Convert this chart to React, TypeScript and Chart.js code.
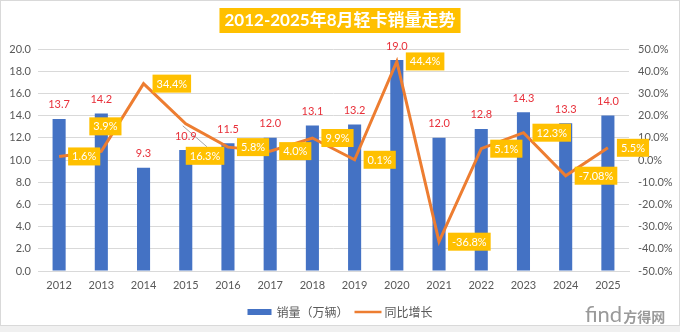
import React, { useEffect, useRef } from 'react';
import { Chart, registerables } from 'chart.js';

Chart.register(...registerables);

const years = ['2012', '2013', '2014', '2015', '2016', '2017', '2018', '2019', '2020', '2021', '2022', '2023', '2024', '2025'];
const sales = [13.7, 14.2, 9.3, 10.9, 11.5, 12.0, 13.1, 13.2, 19.0, 12.0, 12.8, 14.3, 13.3, 14.0];
const growth = [1.6, 3.9, 34.4, 16.3, 5.8, 4.0, 9.9, 0.1, 44.4, -36.8, 5.1, 12.3, -7.08, 5.5];
const growthLabels = ['1.6%', '3.9%', '34.4%', '16.3%', '5.8%', '4.0%', '9.9%', '0.1%', '44.4%', '-36.8%', '5.1%', '12.3%', '-7.08%', '5.5%'];
const leftTicks = [0, 2, 4, 6, 8, 10, 12, 14, 16, 18, 20];
const rightTicks = [-50, -40, -30, -20, -10, 0, 10, 20, 30, 40, 50];
const titleText = '2012-2025年8月轻卡销量走势';
const legendLabels = ['销量（万辆）', '同比增长'];
const labelPlacement = ['right', 'above', 'right', 'below', 'right', 'right', 'right', 'right', 'right', 'right', 'right', 'right', 'right', 'right'];

const BLUE = '#4472C4';
const ORANGE = '#ED7D31';
const GOLD = '#FFC000';
const RED = '#E8303A';
const GRAY = '#595959';
const LATIN = 'Lato, "Noto Sans CJK SC", sans-serif';
const CJK = '"Noto Sans CJK SC", sans-serif';

const overlay = {
  id: 'overlay',
  beforeDraw(chart: any) {
    const { ctx, width, height } = chart;
    ctx.save();
    ctx.fillStyle = '#ffffff';
    ctx.fillRect(0, 0, width, height);
    ctx.fillStyle = '#f0f0f0';
    ctx.fillRect(0, height - 6, width, 6);
    ctx.strokeStyle = '#d9d9d9';
    ctx.lineWidth = 1;
    ctx.strokeRect(0.5, 0.5, width - 1, height - 7);
    ctx.restore();
  },
  beforeDatasetsDraw(chart: any) {
    const ctx = chart.ctx;
    const lineMeta = chart.getDatasetMeta(0);
    ctx.save();
    ctx.font = '11px ' + LATIN;
    ctx.strokeStyle = '#a6a6a6';
    ctx.lineWidth = 1;
    lineMeta.data.forEach((pt: any, i: number) => {
      const w = ctx.measureText(growthLabels[i]).width + 8;
      const h = 18;
      if (labelPlacement[i] === 'above') {
        const bx = pt.x - 12, by = pt.y - 34;
        ctx.beginPath();
        ctx.moveTo(bx + w / 2, by + h);
        ctx.lineTo(pt.x, pt.y - 2);
        ctx.stroke();
      } else if (labelPlacement[i] === 'below') {
        const bx = pt.x, by = pt.y + 23;
        ctx.beginPath();
        ctx.moveTo(pt.x - 3, pt.y + 2);
        ctx.lineTo(bx + w * 0.55, by);
        ctx.stroke();
      }
    });
    ctx.restore();
  },
  afterDatasetsDraw(chart: any) {
    const ctx = chart.ctx;
    const lineMeta = chart.getDatasetMeta(0);
    const barMeta = chart.getDatasetMeta(1);
    ctx.save();
    ctx.font = '11px ' + LATIN;
    ctx.fillStyle = RED;
    ctx.textAlign = 'center';
    ctx.textBaseline = 'middle';
    barMeta.data.forEach((el: any, i: number) => {
      ctx.fillText(sales[i].toFixed(1), el.x, el.y - 14);
    });
    lineMeta.data.forEach((pt: any, i: number) => {
      const t = growthLabels[i];
      const w = ctx.measureText(t).width + 8;
      const h = 18;
      let bx = pt.x + 9;
      let by = pt.y - h / 2;
      if (labelPlacement[i] === 'above') {
        bx = pt.x - 12;
        by = pt.y - 34;
      } else if (labelPlacement[i] === 'below') {
        bx = pt.x;
        by = pt.y + 23;
      }
      ctx.fillStyle = GOLD;
      ctx.fillRect(bx, by, w, h);
      ctx.fillStyle = '#ffffff';
      ctx.fillText(t, bx + w / 2, by + h / 2 + 0.5);
    });
    ctx.restore();
  },
  afterDraw(chart: any) {
    const { ctx, width } = chart;
    ctx.save();
    // title
    ctx.font = 'bold 17px ' + LATIN;
    const tw = ctx.measureText(titleText).width;
    const cx = width / 2;
    ctx.fillStyle = GOLD;
    ctx.fillRect(cx - tw / 2 - 5, 8, tw + 10, 25);
    ctx.fillStyle = '#ffffff';
    ctx.textAlign = 'center';
    ctx.textBaseline = 'middle';
    ctx.fillText(titleText, cx, 21);

    // legend
    ctx.font = '12px ' + CJK;
    ctx.textAlign = 'left';
    const w0 = ctx.measureText(legendLabels[0]).width;
    const w1 = ctx.measureText(legendLabels[1]).width;
    const total = 24 + 5 + w0 + 6 + 27 + 3 + w1;
    let x = cx - total / 2;
    const ly = 312;
    ctx.fillStyle = BLUE;
    ctx.fillRect(x, ly - 3, 24, 6);
    x += 29;
    ctx.fillStyle = GRAY;
    ctx.fillText(legendLabels[0], x, ly);
    x += w0 + 6;
    ctx.strokeStyle = ORANGE;
    ctx.lineWidth = 2.5;
    ctx.beginPath();
    ctx.moveTo(x, ly);
    ctx.lineTo(x + 27, ly);
    ctx.stroke();
    x += 30;
    ctx.fillStyle = GRAY;
    ctx.fillText(legendLabels[1], x, ly);

    // watermark
    ctx.fillStyle = '#9a9a9a';
    ctx.font = '22px ' + LATIN;
    ctx.textBaseline = 'alphabetic';
    ctx.fillText('find', 585, 322);
    const fw = ctx.measureText('find').width;
    ctx.font = 'bold 14px ' + CJK;
    ctx.fillText('方得网', 585 + fw + 1, 322);
    ctx.restore();
  },
};

export default function App() {
  const ref = useRef<HTMLCanvasElement | null>(null);
  useEffect(() => {
    if (!ref.current) return;
    Chart.defaults.font.family = LATIN;
    const chart = new Chart(ref.current, {
      type: 'bar',
      data: {
        labels: years,
        datasets: [
          {
            type: 'line',
            label: legendLabels[1],
            data: growth,
            yAxisID: 'y1',
            borderColor: ORANGE,
            backgroundColor: ORANGE,
            borderWidth: 3,
            pointRadius: 0,
            tension: 0,
            order: 0,
          } as any,
          {
            type: 'bar',
            label: legendLabels[0],
            data: sales,
            yAxisID: 'y',
            backgroundColor: BLUE,
            barPercentage: 0.31,
            categoryPercentage: 1,
            order: 1,
          },
        ],
      },
      options: {
        animation: false,
        responsive: false,
        maintainAspectRatio: false,
        layout: { padding: { left: 0, right: 0, top: 49, bottom: 36 } },
        plugins: {
          legend: { display: false },
          title: { display: false },
          tooltip: { enabled: false },
        },
        scales: {
          x: {
            grid: { display: false, drawTicks: false },
            border: { display: true, color: '#d9d9d9' },
            ticks: { color: GRAY, font: { size: 11 }, padding: 8, maxRotation: 0 },
            afterFit: (s: any) => { s.height = 25; },
          },
          y: {
            position: 'left',
            min: 0,
            max: 20,
            afterBuildTicks: (s: any) => { s.ticks = leftTicks.map((v) => ({ value: v })); },
            ticks: { color: GRAY, font: { size: 11 }, padding: 7, callback: (v: any) => Number(v).toFixed(1) },
            grid: { color: '#d9d9d9', drawTicks: false },
            border: { display: false },
            afterFit: (s: any) => { s.width = 38; },
          },
          y1: {
            position: 'right',
            min: -50,
            max: 50,
            afterBuildTicks: (s: any) => { s.ticks = rightTicks.map((v) => ({ value: v })); },
            ticks: { color: GRAY, font: { size: 11 }, padding: 9, callback: (v: any) => Number(v).toFixed(1) + '%' },
            grid: { display: false, drawTicks: false },
            border: { display: false },
            afterFit: (s: any) => { s.width = 51; },
          },
        },
      },
      plugins: [overlay],
    });
    return () => chart.destroy();
  }, []);
  return (
    <div style={{ position: 'fixed', left: 0, top: 0, width: 680, height: 332, background: '#fff' }}>
      <canvas ref={ref} width={680} height={332} style={{ display: 'block', width: 680, height: 332 }} />
    </div>
  );
}
